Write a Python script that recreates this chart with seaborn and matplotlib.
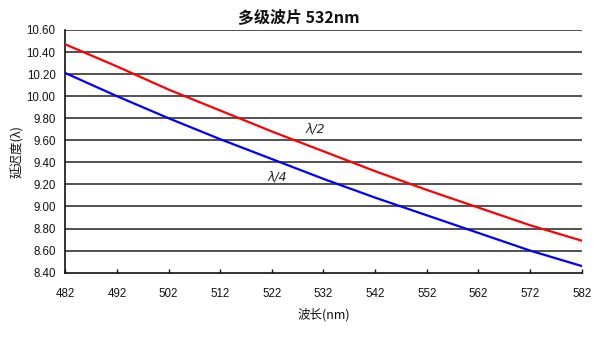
import matplotlib
matplotlib.use("Agg")
import matplotlib.pyplot as plt
import seaborn as sns
import pandas as pd

wavelength = [482, 492, 502, 512, 522, 532, 542, 552, 562, 572, 582]
half_wave = [10.47, 10.27, 10.06, 9.87, 9.68, 9.50, 9.32, 9.15, 8.99, 8.83, 8.69]
quarter_wave = [10.21, 10.00, 9.80, 9.61, 9.43, 9.25, 9.08, 8.92, 8.76, 8.60, 8.46]
series_names = ["λ/2", "λ/4"]
x_ticks = [482, 492, 502, 512, 522, 532, 542, 552, 562, 572, 582]
y_ticks = [8.40, 8.60, 8.80, 9.00, 9.20, 9.40, 9.60, 9.80, 10.00, 10.20, 10.40, 10.60]

sns.set_theme(style="white")
plt.rcParams['font.family'] = ['Noto Sans CJK SC', 'DejaVu Sans']

df = pd.DataFrame({
    "wl": wavelength * 2,
    "ret": half_wave + quarter_wave,
    "s": [series_names[0]] * len(wavelength) + [series_names[1]] * len(wavelength),
})

fig = plt.figure(figsize=(6.0, 3.37), dpi=100)
ax = fig.add_axes([0.1088, 0.191, 0.8607, 0.72])

sns.lineplot(data=df, x="wl", y="ret", hue="s",
             palette={series_names[0]: "#ff0000", series_names[1]: "#0000ff"},
             linewidth=1.6, legend=False, ax=ax, zorder=3)

ax.set_xlim(482, 582)
ax.set_ylim(8.40, 10.60)
ax.set_xticks(x_ticks)
ax.set_xticklabels([str(v) for v in x_ticks], fontsize=8.3, color="#111111",
                   family=['Liberation Sans', 'DejaVu Sans'])
ax.set_yticks(y_ticks)
ax.set_yticklabels([f"{v:.2f}" for v in y_ticks], fontsize=8.3, color="#111111",
                   family=['Liberation Sans', 'DejaVu Sans'])

for v in y_ticks[1:]:
    ax.axhline(v, color="#222222", linewidth=1.1, zorder=1)

for side in ["top", "right"]:
    ax.spines[side].set_visible(False)
ax.spines["left"].set_color("#111111")
ax.spines["bottom"].set_color("#111111")
ax.spines["left"].set_linewidth(1.2)
ax.spines["bottom"].set_linewidth(1.2)

ax.tick_params(axis="x", direction="in", length=3, width=1, color="#111111", pad=11, bottom=True)
ax.tick_params(axis="y", length=0, pad=7)

ax.set_xlabel("波长(nm)", fontsize=9, labelpad=6, color="#111111")
ax.set_ylabel("延迟度(λ)", fontsize=9, labelpad=2, color="#111111")

ax.text(530.5, 9.70, series_names[0], fontsize=9, style="italic",
        family=['DejaVu Sans'], ha="center", va="center")
ax.text(523.0, 9.27, series_names[1], fontsize=9, style="italic",
        family=['DejaVu Sans'], ha="center", va="center")

fig.text(0.498, 0.948, "多级波片 532nm", fontsize=11.5, fontweight="bold",
         ha="center", va="center", color="#111111")

fig.savefig("out.png", dpi=100)
